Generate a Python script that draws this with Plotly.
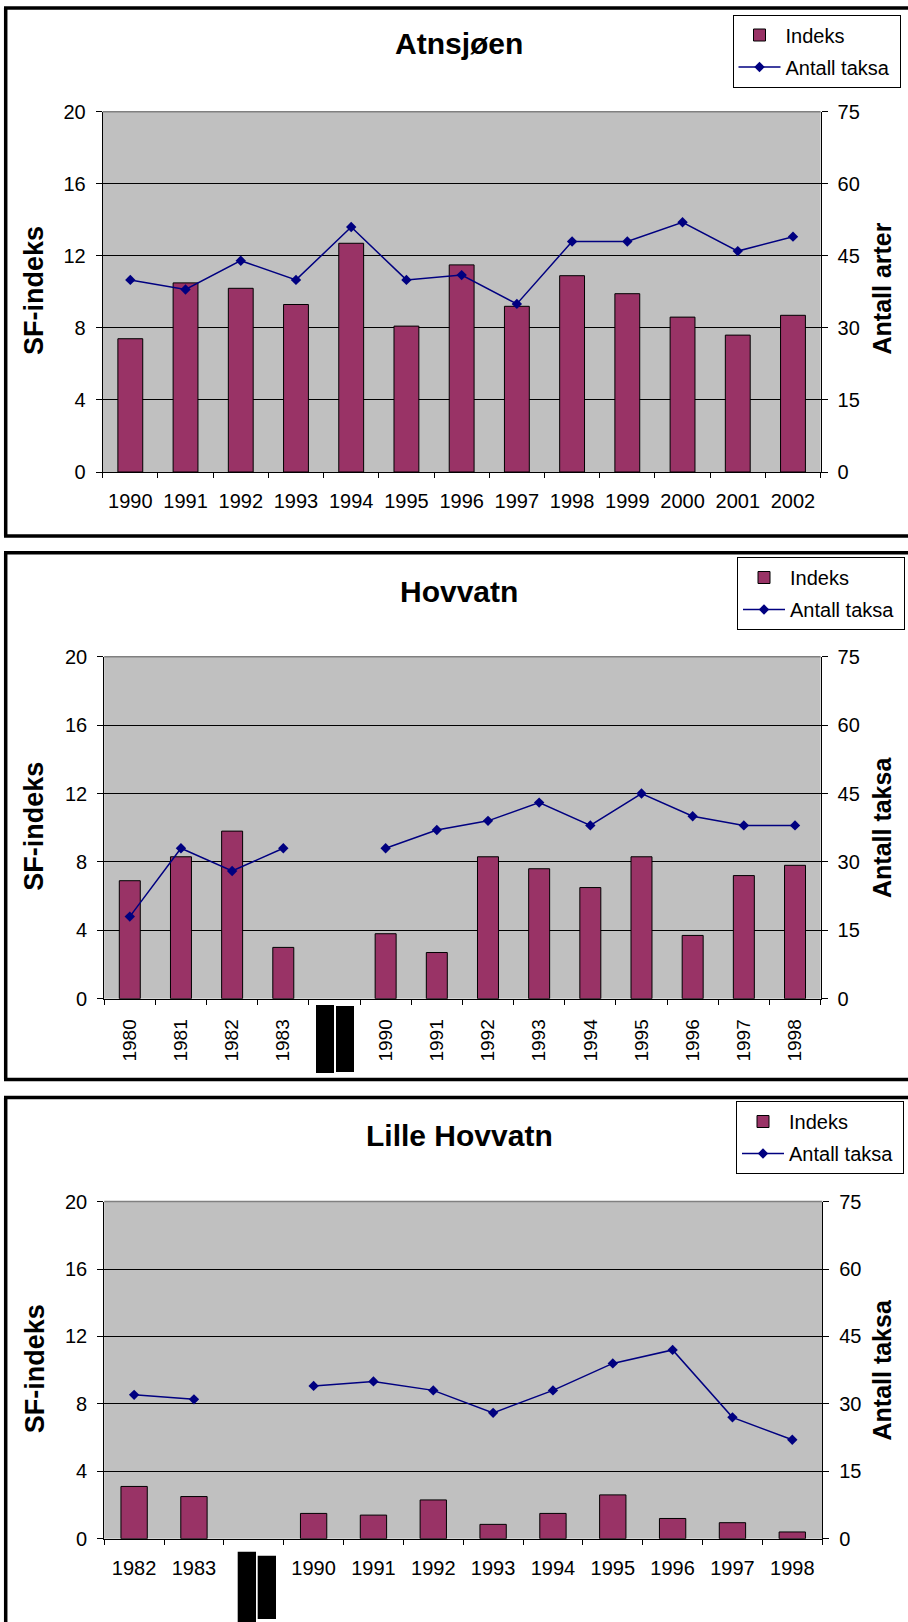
import plotly.graph_objects as go

W, H = 908, 1622

# ---------------- data ----------------
atn_years = ["1990", "1991", "1992", "1993", "1994", "1995", "1996",
             "1997", "1998", "1999", "2000", "2001", "2002"]
atn_indeks = [7.4, 10.5, 10.2, 9.3, 12.7, 8.1, 11.5, 9.2, 10.9, 9.9, 8.6, 7.6, 8.7]
atn_taksa = [40, 38, 44, 40, 51, 40, 41, 35, 48, 48, 52, 46, 49]

hov_years = ["1980", "1981", "1982", "1983", " ", "1990", "1991", "1992",
             "1993", "1994", "1995", "1996", "1997", "1998"]
hov_indeks = [6.9, 8.3, 9.8, 3.0, None, 3.8, 2.7, 8.3, 7.6, 6.5, 8.3, 3.7, 7.2, 7.8]
hov_taksa = [18, 33, 28, 33, None, 33, 37, 39, 43, 38, 45, 40, 38, 38]

lh_years = ["1982", "1983", " ", "1990", "1991", "1992", "1993", "1994",
            "1995", "1996", "1997", "1998"]
lh_indeks = [3.1, 2.5, None, 1.5, 1.4, 2.3, 0.85, 1.5, 2.6, 1.2, 0.95, 0.4]
lh_taksa = [32, 31, None, 34, 35, 33, 28, 33, 39, 42, 27, 22]

titles = ["Atnsjøen", "Hovvatn", "Lille Hovvatn"]
right_titles = ["Antall arter", "Antall taksa", "Antall taksa"]
left_title = "SF-indeks"
bar_name = "Indeks"
line_name = "Antall taksa\u00a0"

BAR_COLOR = "#993366"
LINE_COLOR = "#000080"
FONT = "Liberation Sans, Arial, sans-serif"


def px(x):
    return x / W


def py(y):
    return 1 - y / H


# panel geometry (pixels)
panels = [
    dict(cats=atn_years, bars=atn_indeks, line=atn_taksa, x0=102.7, x1=820.6,
         top=111.8, bot=472.0, angle=0, bw=0.45, title_y=43.5, xfont=20,
         frame=(5.7, 7.9, 536.0), leg=(732.5, 14.5), standoff=11, rty=289.0),
    dict(cats=hov_years, bars=hov_indeks, line=hov_taksa, x0=104.2, x1=820.6,
         top=656.7, bot=998.7, angle=-90, bw=0.41, title_y=591.0, xfont=19,
         frame=(5.7, 552.7, 1079.5), leg=(737.0, 557.0), standoff=12, rty=827.5),
    dict(cats=lh_years, bars=lh_indeks, line=lh_taksa, x0=104.2, x1=822.2,
         top=1201.6, bot=1538.7, angle=0, bw=0.44, title_y=1135.0, xfont=20,
         frame=(5.7, 1097.5, None), leg=(736.0, 1101.0), standoff=11, rty=1370.0),
]

fig = go.Figure()
layout = dict(
    width=W, height=H, autosize=False,
    margin=dict(l=0, r=0, t=0, b=0, pad=0, autoexpand=False),
    paper_bgcolor="white", plot_bgcolor="#C0C0C0",
    font=dict(family=FONT, size=20, color="black"),
    barmode="overlay",
)
shapes = []
annotations = []

for i, p in enumerate(panels):
    k = i + 1
    xa = "x" if k == 1 else f"x{k}"
    yl_n = 2 * k - 1
    yr_n = 2 * k
    yl = "y" if yl_n == 1 else f"y{yl_n}"
    yr = f"y{yr_n}"
    leg = "legend" if k == 1 else f"legend{k}"

    fig.add_trace(go.Bar(
        x=p["cats"], y=p["bars"], name=bar_name, xaxis=xa, yaxis=yl,
        width=p["bw"], marker=dict(color=BAR_COLOR, line=dict(color="black", width=1)),
        legend=leg, legendgroup=f"b{k}", hoverinfo="x+y",
    ))
    fig.add_trace(go.Scatter(
        x=p["cats"], y=p["line"], name=line_name, xaxis=xa, yaxis=yr,
        mode="lines+markers", connectgaps=False,
        line=dict(color=LINE_COLOR, width=1.5),
        marker=dict(symbol="diamond", size=8, color=LINE_COLOR),
        legend=leg, legendgroup=f"l{k}", hoverinfo="x+y",
    ))

    n = len(p["cats"])
    xkey = "xaxis" if k == 1 else f"xaxis{k}"
    ylkey = "yaxis" if yl_n == 1 else f"yaxis{yl_n}"
    yrkey = f"yaxis{yr_n}"
    dom_y = [py(p["bot"]), py(p["top"])]
    layout[xkey] = dict(
        domain=[px(p["x0"]), px(p["x1"])], anchor=yl, type="category",
        range=[-0.5, n - 0.5], tickson="boundaries", ticks="outside",
        ticklen=5, tickcolor="black", showline=True, linecolor="black",
        linewidth=1, showgrid=False, tickangle=p["angle"],
        ticklabelstandoff=p["standoff"], tickfont=dict(size=p["xfont"]),
    )
    layout[ylkey] = dict(
        domain=dom_y, anchor=xa, range=[0, 20], dtick=4, tick0=0,
        ticks="outside", ticklen=6, tickcolor="black", showline=True,
        linecolor="black", linewidth=1, showgrid=True, gridcolor="black",
        gridwidth=1, zeroline=False, ticklabelstandoff=6, tickfont=dict(size=20),
    )
    layout[yrkey] = dict(
        domain=dom_y, anchor=xa, overlaying=yl, side="right", range=[0, 75],
        dtick=15, tick0=0, ticks="outside", ticklen=6, tickcolor="black",
        showline=True, linecolor="black", linewidth=1, showgrid=False,
        zeroline=False, ticklabelstandoff=6, tickfont=dict(size=20),
    )
    layout[leg] = dict(
        x=px(p["leg"][0]), y=py(p["leg"][1]), xanchor="left", yanchor="top",
        bgcolor="white", bordercolor="black", borderwidth=1,
        font=dict(family=FONT, size=20, color="black"),
        tracegroupgap=3, itemwidth=42, traceorder="grouped",
    )

    # top edge of plot area (grey border)
    shapes.append(dict(type="line", xref="paper", yref="paper",
                       x0=px(p["x0"]), x1=px(p["x1"]), y0=py(p["top"]), y1=py(p["top"]),
                       line=dict(color="#808080", width=1.5)))

    # panel frame
    fx, ftop, fbot = p["frame"]
    shapes.append(dict(type="line", xref="paper", yref="paper",
                       x0=px(fx), x1=px(fx), y0=py(ftop), y1=py(fbot if fbot else H + 20),
                       line=dict(color="black", width=3.5)))
    shapes.append(dict(type="line", xref="paper", yref="paper",
                       x0=px(fx - 1.7), x1=px(W + 20), y0=py(ftop), y1=py(ftop),
                       line=dict(color="black", width=3.5)))
    if fbot:
        shapes.append(dict(type="line", xref="paper", yref="paper",
                           x0=px(fx - 1.7), x1=px(W + 20), y0=py(fbot), y1=py(fbot),
                           line=dict(color="black", width=3.5)))

    # chart title
    annotations.append(dict(text=titles[i], xref="paper", yref="paper",
                            x=px(459.5), y=py(p["title_y"]), xanchor="center",
                            yanchor="middle", showarrow=False,
                            font=dict(family=FONT, size=30, weight="bold", color="black")))
    cy = (p["top"] + p["bot"]) / 2
    annotations.append(dict(text=left_title, xref="paper", yref="paper",
                            x=px(34.5), y=py(cy - 1.5), xanchor="center", yanchor="middle",
                            textangle=-90, showarrow=False,
                            font=dict(family=FONT, size=27, weight="bold", color="black")))
    annotations.append(dict(text=right_titles[i], xref="paper", yref="paper",
                            x=px(881.5), y=py(p["rty"]), xanchor="center", yanchor="middle",
                            textangle=-90, showarrow=False,
                            font=dict(family=FONT, size=25, weight="bold", color="black")))

# redaction blocks covering the gap-category labels
for (x0, x1, y0, y1) in [(316, 334, 1005, 1073), (336, 354, 1006, 1072),
                         (237.7, 256, 1551.7, 1622), (257.7, 276, 1555.7, 1619)]:
    shapes.append(dict(type="rect", xref="paper", yref="paper",
                       x0=px(x0), x1=px(x1), y0=py(y1), y1=py(y0),
                       fillcolor="black", line=dict(width=0)))

layout["shapes"] = shapes
layout["annotations"] = annotations
fig.update_layout(**layout)
fig.write_html("out.html", config={"displayModeBar": False},
               post_script="document.body.style.margin='0';")
